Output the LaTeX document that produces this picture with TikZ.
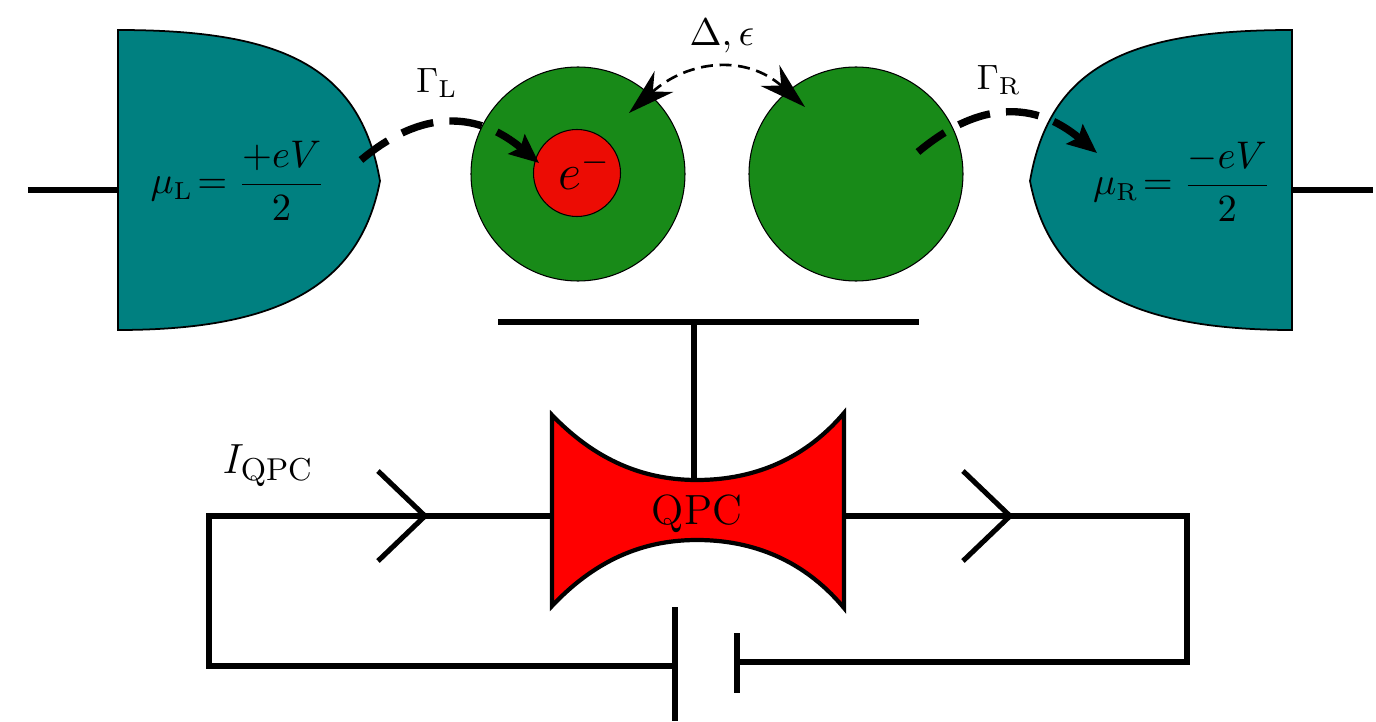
\documentclass[tikz,border=0pt]{standalone}
\usepackage{xcolor}
\usetikzlibrary{arrows.meta}
\definecolor{qdLead}{RGB}{  0,128,128}
\definecolor{qdDot}{RGB}{ 24,138, 24}
\definecolor{qdElec}{RGB}{236, 12,  4}
\definecolor{qdPoint}{RGB}{255,  0,  0}

\begin{document}
\begin{tikzpicture}[
    lead/.style={draw=black, line width=0.5pt, fill=qdLead},
    dotc/.style={circle, draw=black, line width=0.3pt, fill=qdDot, minimum size=2.14cm, inner sep=0pt},
    elec/.style={circle, draw=black, line width=0.3pt, fill=qdElec, minimum size=0.87cm, inner sep=0pt},
    wire/.style={line width=1.45pt},
    plate/.style={line width=1.7pt},
    hop/.style={-{Stealth[length=2.9mm, width=2.5mm, inset=0.5mm]}, line width=2.1pt,
                dash pattern=on 9.4pt off 4.6pt, out=40, in=140, looseness=1.15},
    tunnel/.style={{Stealth[length=4.7mm, width=2.8mm, inset=1.5mm]}-{Stealth[length=4.7mm, width=2.8mm, inset=1.5mm]},
                line width=0.75pt, dash pattern=on 3.4pt off 1.9pt, out=42, in=138, looseness=1.15},
    lbl/.style={font=\fontsize{10.95}{13}\selectfont}
  ]
  \useasboundingbox (0,0) rectangle (13.76,7.21);
  % leads
  \draw[lead] (1.18,6.91) .. controls (2.80,6.91) and (3.60,6.56) .. (3.80,5.40)
    .. controls (3.60,4.36) and (2.80,3.91) .. (1.18,3.91) -- cycle;
  \draw[lead] (12.92,6.91) .. controls (11.30,6.91) and (10.50,6.56) .. (10.30,5.40)
    .. controls (10.50,4.36) and (11.30,3.91) .. (12.92,3.91) -- cycle;
  \coordinate (wireLa) at (0.28,5.31);
  \coordinate (wireLb) at (1.18,5.31);
  \coordinate (wireRa) at (12.92,5.31);
  \coordinate (wireRb) at (13.73,5.31);
  \draw[wire] (wireLa) -- (wireLb);
  \draw[wire] (wireRa) -- (wireRb);
  \node[font=\fontsize{10.5}{13}\selectfont] (muL) at (2.38,5.40) {$\mu_{\mathrm{L}}\!= \displaystyle\frac{+eV}{2}$};
  \node[font=\fontsize{10.5}{13}\selectfont] (muR) at (11.82,5.39) {$\mu_{\mathrm{R}}\!= \displaystyle\frac{-eV}{2}$};
  % dots
  \node[dotc] (dotL) at (5.78,5.47) {};
  \node[dotc] (dotR) at (8.56,5.47) {};
  \node[elec] (elecL) at (5.77,5.48) {};
  \node[font=\fontsize{14.4}{16}\selectfont] (elecT) at (5.85,5.51) {$e^-$};
  % hopping
  \coordinate (hopLa) at (3.61,5.61);
  \coordinate (hopLb) at (5.39,5.58);
  \coordinate (hopRa) at (9.18,5.69);
  \coordinate (hopRb) at (10.97,5.68);
  \draw[hop] (hopLa) to (hopLb);
  \draw[hop] (hopRa) to (hopRb);
  \coordinate (tunL) at (6.29,6.08);
  \coordinate (tunR) at (8.05,6.14);
  \draw[tunnel] (tunL) to (tunR);
  \node[font=\fontsize{10}{12}\selectfont] (gamL) at (4.37,6.38) {$\Gamma_{\mathrm{L}}$};
  \node[font=\fontsize{10}{12}\selectfont] (gamR) at (9.99,6.41) {$\Gamma_{\mathrm{R}}$};
  \node[lbl] (delta) at (7.22,6.85) {$\Delta, \epsilon$};
  % gate
  \coordinate (gateL) at (4.98,3.99);
  \coordinate (gateR) at (9.19,3.99);
  \coordinate (gateM) at (6.94,3.99);
  \coordinate (qpcT) at (6.94,2.41);
  \draw[wire] (gateL) -- (gateR);
  \draw[wire] (gateM) -- (qpcT);
  % qpc
  \draw[line width=1.2pt, fill=qdPoint] (5.52,3.06) .. controls (6.00,2.56) and (6.50,2.41) .. (6.97,2.41)
    .. controls (7.45,2.41) and (8.00,2.56) .. (8.44,3.08) -- (8.44,1.13)
    .. controls (8.00,1.66) and (7.45,1.81) .. (6.97,1.81)
    .. controls (6.50,1.81) and (6.00,1.66) .. (5.52,1.15) -- cycle;
  \node[font=\fontsize{12}{14}\selectfont] (qpc) at (6.97,2.07) {QPC};
  % circuit
  \coordinate (qpcL) at (5.52,2.05);
  \coordinate (qpcR) at (8.44,2.05);
  \coordinate (batL) at (6.75,0.55);
  \coordinate (batR) at (7.37,0.59);
  \draw[wire] (qpcL) -- (2.09,2.05) -- (2.09,0.55) -- (batL);
  \draw[wire] (qpcR) -- (11.87,2.05) -- (11.87,0.59) -- (batR);
  \draw[plate] (6.75,1.14) -- (6.75,0);
  \draw[plate] (7.37,0.88) -- (7.37,0.28);
  \foreach \x in {4.25,10.10} {
    \draw[wire] (\x-0.47,2.50) -- (\x,2.05) -- (\x-0.47,1.60);
  }
  \node[font=\fontsize{13}{15}\selectfont] (iqpc) at (2.68,2.55) {$I_{\mathrm{QPC}}$};
\end{tikzpicture}
\end{document}
